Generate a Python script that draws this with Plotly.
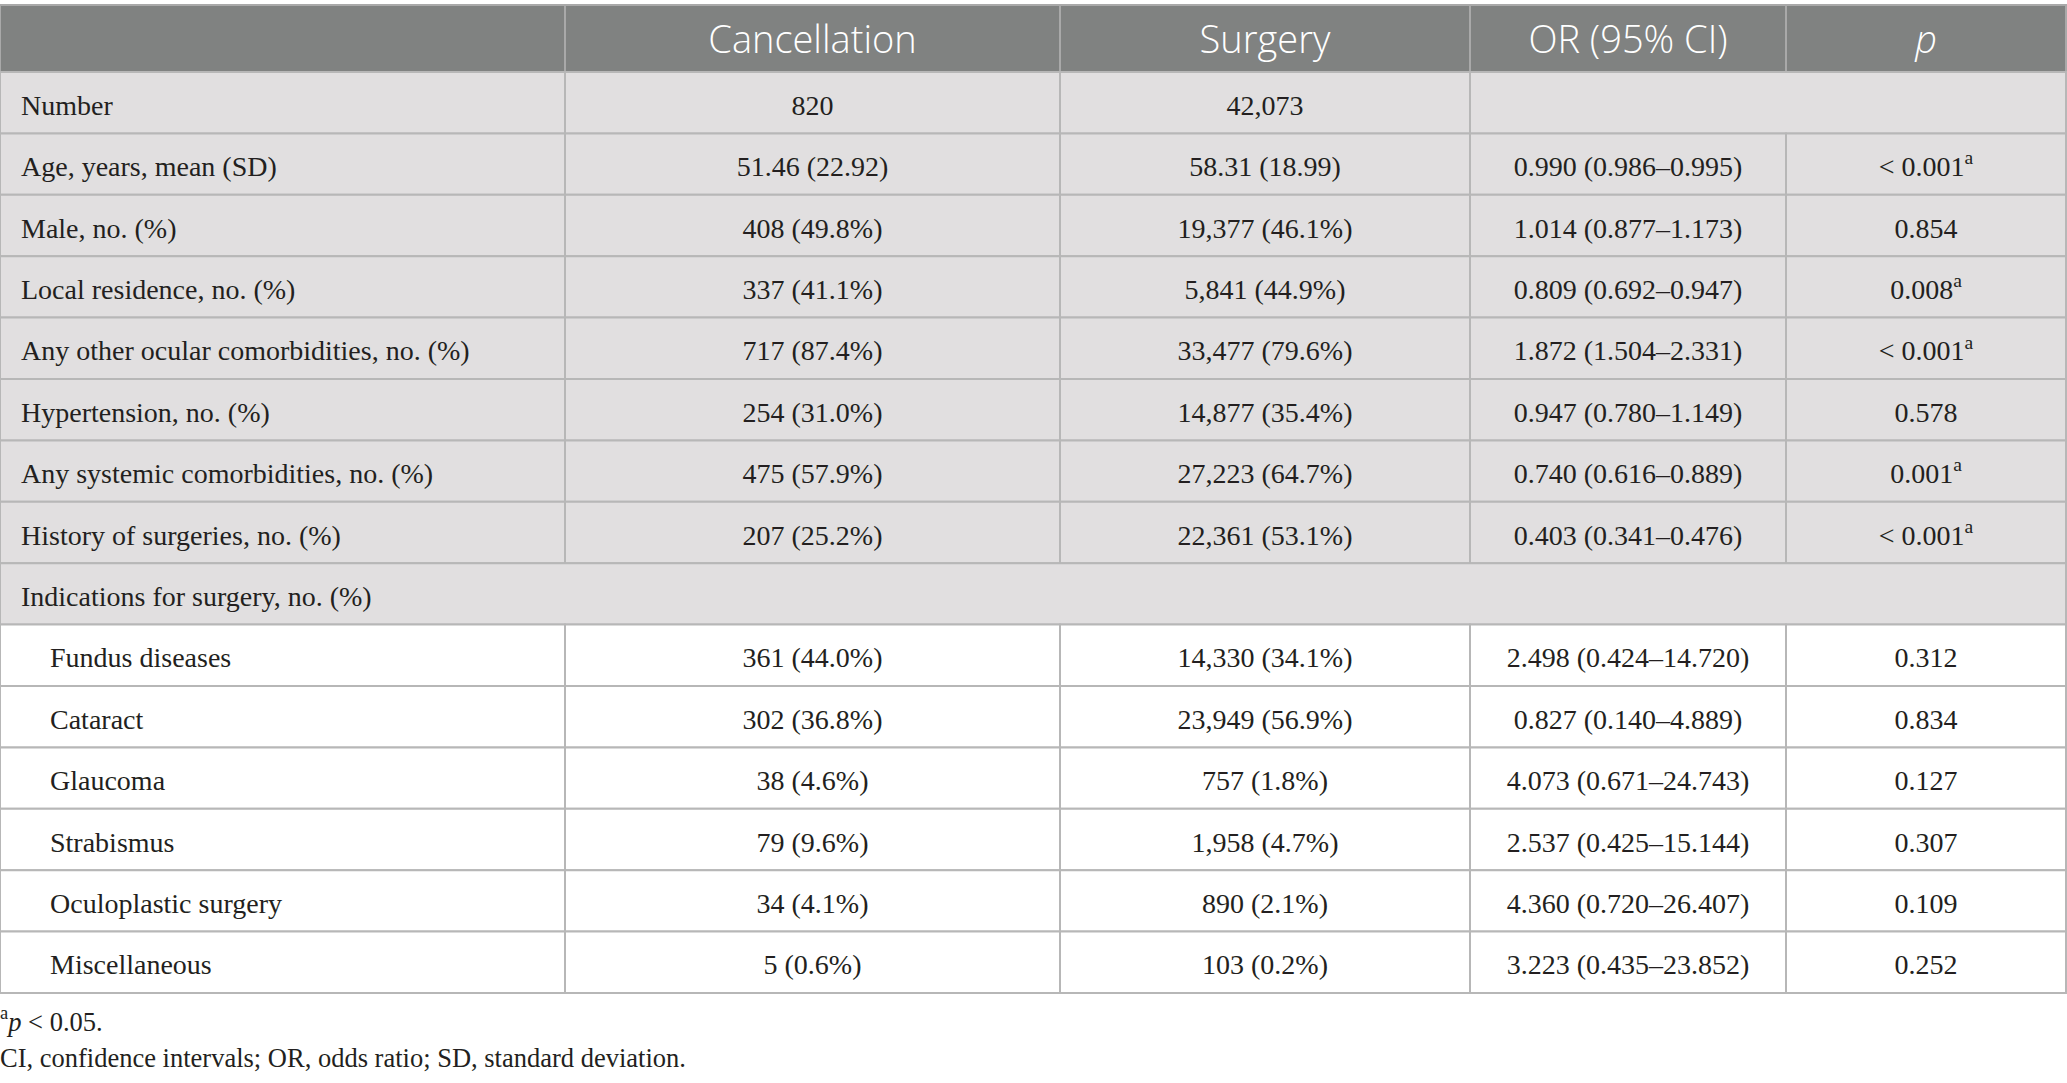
import plotly.graph_objects as go

# table content
HEADERS = ["", "Cancellation", "Surgery", "OR (95% CI)", "<i>p</i>"]

ROW_LABELS = [
    "Number",
    "Age, years, mean (SD)",
    "Male, no. (%)",
    "Local residence, no. (%)",
    "Any other ocular comorbidities, no. (%)",
    "Hypertension, no. (%)",
    "Any systemic comorbidities, no. (%)",
    "History of surgeries, no. (%)",
    "Indications for surgery, no. (%)",
    "Fundus diseases",
    "Cataract",
    "Glaucoma",
    "Strabismus",
    "Oculoplastic surgery",
    "Miscellaneous",
]
CANCELLATION = ["820", "51.46 (22.92)", "408 (49.8%)", "337 (41.1%)", "717 (87.4%)",
                "254 (31.0%)", "475 (57.9%)", "207 (25.2%)", "",
                "361 (44.0%)", "302 (36.8%)", "38 (4.6%)", "79 (9.6%)", "34 (4.1%)", "5 (0.6%)"]
SURGERY = ["42,073", "58.31 (18.99)", "19,377 (46.1%)", "5,841 (44.9%)", "33,477 (79.6%)",
           "14,877 (35.4%)", "27,223 (64.7%)", "22,361 (53.1%)", "",
           "14,330 (34.1%)", "23,949 (56.9%)", "757 (1.8%)", "1,958 (4.7%)", "890 (2.1%)", "103 (0.2%)"]
OR_CI = ["", "0.990 (0.986–0.995)", "1.014 (0.877–1.173)", "0.809 (0.692–0.947)",
         "1.872 (1.504–2.331)", "0.947 (0.780–1.149)", "0.740 (0.616–0.889)",
         "0.403 (0.341–0.476)", "",
         "2.498 (0.424–14.720)", "0.827 (0.140–4.889)", "4.073 (0.671–24.743)",
         "2.537 (0.425–15.144)", "4.360 (0.720–26.407)", "3.223 (0.435–23.852)"]
P_VALUES = ["", "&lt; 0.001<sup>a</sup>", "0.854", "0.008<sup>a</sup>", "&lt; 0.001<sup>a</sup>",
            "0.578", "0.001<sup>a</sup>", "&lt; 0.001<sup>a</sup>", "",
            "0.312", "0.834", "0.127", "0.307", "0.109", "0.252"]
SUBGROUP = ["Fundus diseases", "Cataract", "Glaucoma", "Strabismus",
            "Oculoplastic surgery", "Miscellaneous"]
FOOTNOTES = ["<sup>a</sup><i>p</i> &lt; 0.05.",
             "CI, confidence intervals; OR, odds ratio; SD, standard deviation."]

# layout constants (pixels)
W, H = 2067, 1083
COL_EDGES = [0, 565, 1060, 1470, 1786, 2066]
TOP, HEAD_H, ROW_H = 5, 67, 61.4
TEXT_DY = 5
HEAD_BG, ROW_BG, SUB_BG = "#808281", "#e1dfe0", "#ffffff"
GRID = "#b7b7b7"
INK = "#231f20"
SERIF = "Liberation Serif"
SANS = "Open Sans"

n = len(ROW_LABELS)
row_top = [TOP + HEAD_H + i * ROW_H for i in range(n)]
row_mid = [t + ROW_H / 2 + TEXT_DY for t in row_top]
col_mid = [(COL_EDGES[i] + COL_EDGES[i + 1]) / 2 for i in range(len(COL_EDGES) - 1)]

shapes = []


def cell(x0, x1, y0, y1, fill, line=GRID):
    shapes.append(dict(type="rect", xref="x", yref="y", x0=x0, x1=x1, y0=y0, y1=y1,
                       fillcolor=fill, line=dict(color=line, width=2), layer="below"))


# header
for c in range(len(HEADERS)):
    cell(COL_EDGES[c], COL_EDGES[c + 1], TOP, TOP + HEAD_H, HEAD_BG, "#a9a9a9")

# body
for i, label in enumerate(ROW_LABELS):
    y0, y1 = row_top[i], row_top[i] + ROW_H
    fill = SUB_BG if label in SUBGROUP else ROW_BG
    if OR_CI[i] == "" and CANCELLATION[i] == "":
        spans = [(0, 5)]
    elif OR_CI[i] == "":
        spans = [(0, 1), (1, 2), (2, 3), (3, 5)]
    else:
        spans = [(c, c + 1) for c in range(5)]
    for a, b in spans:
        cell(COL_EDGES[a], COL_EDGES[b], y0, y1, fill)

fig = go.Figure()

# header text
fig.add_trace(go.Scatter(
    x=col_mid[1:], y=[TOP + HEAD_H / 2 + 5] * 4, text=HEADERS[1:], mode="text",
    textposition="middle center",
    textfont=dict(family=SANS, size=38, color="white", weight=300), hoverinfo="skip"))

# first column
label_x = [50 if lab in SUBGROUP else 21 for lab in ROW_LABELS]
fig.add_trace(go.Scatter(
    x=label_x, y=row_mid, text=ROW_LABELS, mode="text", textposition="middle right",
    textfont=dict(family=SERIF, size=28, color=INK), hoverinfo="skip"))

# value columns (skip empty merged cells)
for c, vals in enumerate([CANCELLATION, SURGERY, OR_CI, P_VALUES], start=1):
    idx = [i for i, v in enumerate(vals) if v]
    fig.add_trace(go.Scatter(
        x=[col_mid[c]] * len(idx), y=[row_mid[i] for i in idx],
        text=[vals[i] for i in idx], mode="text",
        textposition="middle center",
        textfont=dict(family=SERIF, size=28, color=INK), hoverinfo="skip"))

# footnotes
fig.add_trace(go.Scatter(
    x=[0, 0], y=[1024, 1060], text=FOOTNOTES, mode="text", textposition="middle right",
    textfont=dict(family=SERIF, size=26.5, color=INK), hoverinfo="skip"))

fig.update_layout(
    width=W, height=H, margin=dict(l=0, r=0, t=0, b=0),
    paper_bgcolor="white", plot_bgcolor="white", showlegend=False,
    shapes=shapes,
    xaxis=dict(range=[0, W], visible=False, fixedrange=True),
    yaxis=dict(range=[H, 0], visible=False, fixedrange=True),
)

fig.write_html("out.html", config={"displayModeBar": False},
               post_script="document.body.style.margin='0px';")
